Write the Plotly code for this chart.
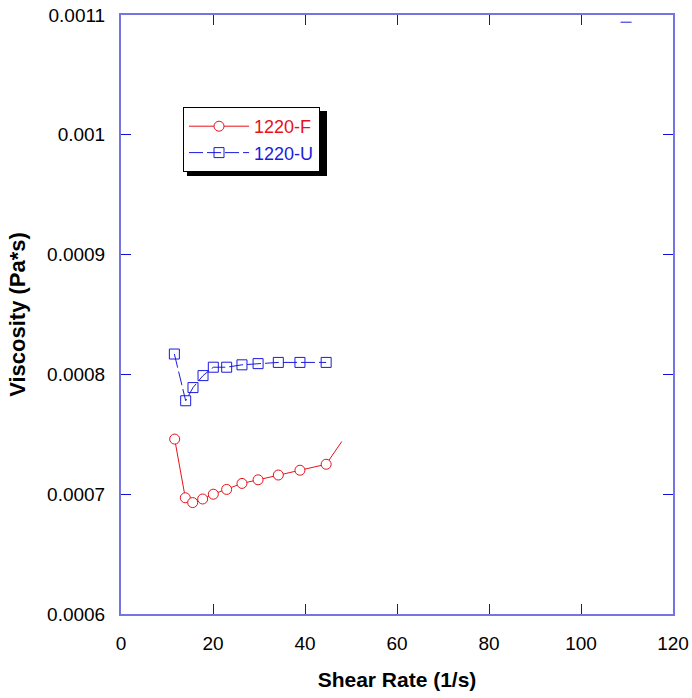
import plotly.graph_objects as go

# Shear-rate sweep data
shear_f = [11.67, 13.98, 15.58, 17.75, 20.07, 22.97, 26.3, 29.8, 34.2, 38.9, 44.6]
visc_f = [0.000746, 0.000697, 0.000693, 0.000696, 0.000700, 0.000704,
          0.000709, 0.000712, 0.000716, 0.000720, 0.000725]
# trailing segment of the F curve (no marker)
shear_f_tail = [44.6, 48.0]
visc_f_tail = [0.000725, 0.000744]

shear_u = [11.6, 14.06, 15.65, 17.83, 20.07, 22.97, 26.3, 29.8, 34.2, 38.9, 44.6]
visc_u = [0.000817, 0.000778, 0.000789, 0.000799, 0.000806, 0.000806,
          0.000808, 0.000809, 0.000810, 0.000810, 0.000810]
# short stray segment near the top edge
shear_u_stub = [108.6, 111.0]
visc_u_stub = [0.001094, 0.001094]

series_names = ["1220-F", "1220-U"]
x_ticks = [0, 20, 40, 60, 80, 100, 120]
y_ticks = [0.0006, 0.0007, 0.0008, 0.0009, 0.001, 0.0011]
y_tick_text = ["0.0006", "0.0007", "0.0008", "0.0009", "0.001", "0.0011"]

RED = "#e8101a"
BLUE = "#1a1ae0"
AXIS = "#7474e6"
TICK = "#1010d8"
FONT = "Liberation Sans, Arial, sans-serif"


def colored(text, color):
    return f"<span style='color:{color}'>{text}</span>"


fig = go.Figure()
fig.add_trace(go.Scatter(
    x=shear_f_tail, y=visc_f_tail, mode="lines",
    line=dict(color=RED, width=1), showlegend=False, hoverinfo="skip"))
fig.add_trace(go.Scatter(
    x=shear_f, y=visc_f, mode="lines+markers", name=colored(series_names[0], RED),
    line=dict(color=RED, width=1),
    marker=dict(symbol="circle", size=10, color="white",
                line=dict(color=RED, width=1))))
fig.add_trace(go.Scatter(
    x=shear_u, y=visc_u, mode="lines+markers", name=colored(series_names[1], BLUE),
    line=dict(color=BLUE, width=1, dash="14px,4px"),
    marker=dict(symbol="square-open", size=10, color=BLUE,
                line=dict(color=BLUE, width=1))))
fig.add_trace(go.Scatter(
    x=shear_u_stub, y=visc_u_stub, mode="lines",
    line=dict(color=BLUE, width=1), showlegend=False, hoverinfo="skip"))

W, H = 692, 698
L, R, T, B = 121, 19, 15, 84
pw, ph = W - L - R, H - T - B


def px_x(p):
    return (p - L) / pw


def px_y(p):
    return (H - B - p) / ph


# drop shadow behind the legend box
fig.add_shape(type="rect", xref="paper", yref="paper",
              x0=px_x(187), x1=px_x(327), y0=px_y(176), y1=px_y(111),
              fillcolor="black", line=dict(width=0), layer="above")

axis_common = dict(
    showline=True, linecolor=AXIS, linewidth=2, mirror="ticks",
    ticks="inside", ticklen=10, tickcolor=TICK, tickwidth=1,
    showgrid=False, zeroline=False,
    tickfont=dict(family=FONT, size=19, color="black"),
)

fig.update_layout(
    width=W, height=H,
    margin=dict(l=L, r=R, t=T, b=B, autoexpand=False),
    paper_bgcolor="white", plot_bgcolor="white",
    xaxis=dict(range=[0, 120], tickvals=x_ticks, ticklabelstandoff=11,
               title=dict(text="<b>Shear Rate (1/s)</b>", standoff=20,
                          font=dict(family=FONT, size=21, color="black")),
               **axis_common),
    yaxis=dict(range=[0.0006, 0.0011], tickvals=y_ticks, ticktext=y_tick_text,
               ticklabelstandoff=10,
               title=dict(text="<b>Viscosity (Pa*s)</b>", standoff=15,
                          font=dict(family=FONT, size=22, color="black")),
               **axis_common),
    legend=dict(
        x=px_x(183), y=px_y(107), xanchor="left", yanchor="top",
        bgcolor="white", bordercolor="black", borderwidth=1,
        font=dict(family=FONT, size=18),
        itemwidth=60, tracegroupgap=0,
    ),
    showlegend=True,
)

fig.write_html("out.html")
